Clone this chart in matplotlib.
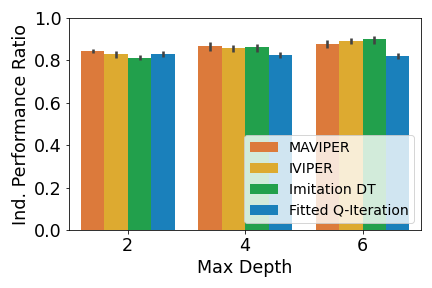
import matplotlib
matplotlib.use("Agg")
import matplotlib.pyplot as plt
import numpy as np

depths = ["2", "4", "6"]
methods = ["MAVIPER", "IVIPER", "Imitation DT", "Fitted Q-Iteration"]
colors = ["#dc7a3b", "#ddaa30", "#22a04c", "#1a80bb"]
means = {
    "MAVIPER": [0.843, 0.868, 0.877],
    "IVIPER": [0.830, 0.858, 0.892],
    "Imitation DT": [0.811, 0.862, 0.900],
    "Fitted Q-Iteration": [0.830, 0.825, 0.821],
}
err_lo = {
    "MAVIPER": [0.833, 0.845, 0.858],
    "IVIPER": [0.810, 0.840, 0.877],
    "Imitation DT": [0.800, 0.840, 0.877],
    "Fitted Q-Iteration": [0.815, 0.810, 0.807],
}
err_hi = {
    "MAVIPER": [0.853, 0.887, 0.896],
    "IVIPER": [0.845, 0.873, 0.906],
    "Imitation DT": [0.825, 0.877, 0.915],
    "Fitted Q-Iteration": [0.845, 0.840, 0.835],
}

fig = plt.figure(figsize=(6, 4), dpi=72)
ax = fig.add_axes([0.160, 0.201, 0.815, 0.7365])
x = np.arange(len(depths))
w = 0.2
for i, m in enumerate(methods):
    pos = x - 0.3 + i * w
    ax.bar(pos, means[m], width=w, color=colors[i], label=m)
    lo = np.array(err_lo[m]); hi = np.array(err_hi[m])
    ax.vlines(pos, lo, hi, color="#424242", lw=2.6, zorder=3)

ax.set_xticks(x)
ax.set_xticklabels(depths)
ax.set_xlim(-0.5, 2.5)
ax.set_ylim(0, 1.0)
ax.set_yticks([0, 0.2, 0.4, 0.6, 0.8, 1.0])
ax.tick_params(labelsize=17.5)
ax.set_xlabel("Max Depth", fontsize=17.5)
ax.set_ylabel("Ind. Performance Ratio", fontsize=17.5)
ax.legend(loc="lower right", fontsize=14, framealpha=0.8)
fig.savefig("out.png", dpi=72)
